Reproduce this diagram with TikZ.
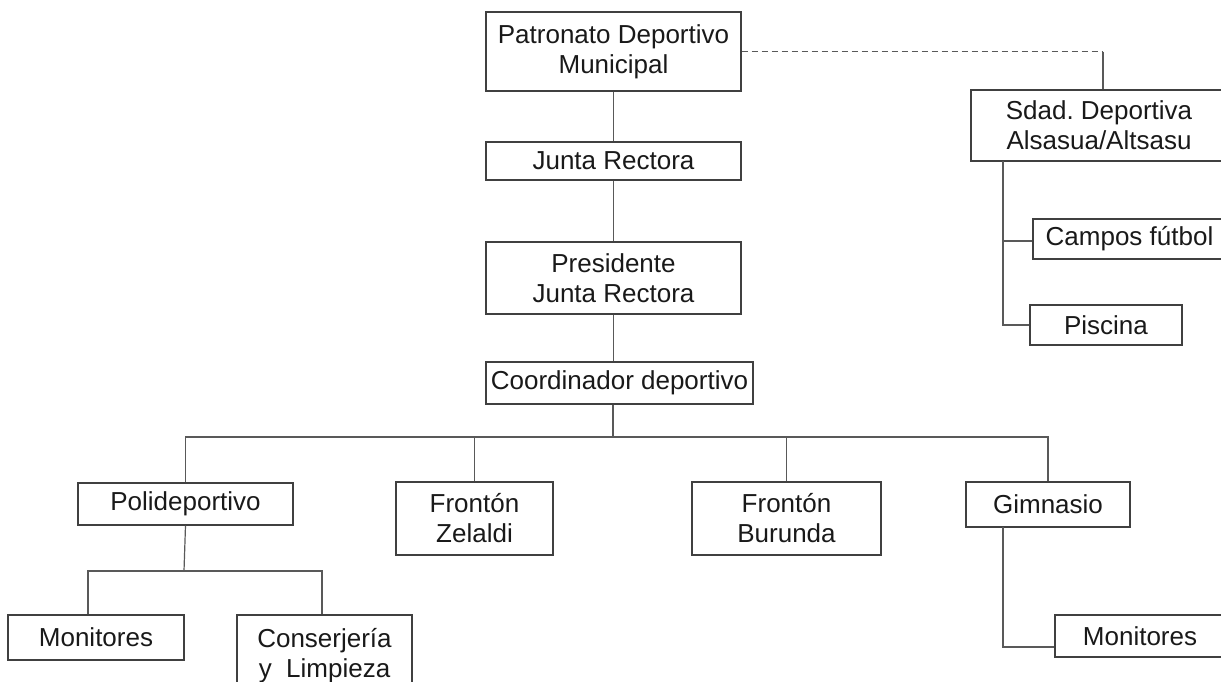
\documentclass[tikz,border=0pt]{standalone}
\usepackage{fontspec}
\setmainfont{Liberation Sans}
\usepackage{tikz}
\usepackage{xcolor}
\frenchspacing

\tikzset{
  caja/.style={draw=black!75, line width=1.2pt, inner sep=0pt, align=center,
    text=black!90, font=\fontsize{26}{30}\selectfont},
  linea/.style={draw=black!65, line width=1.2pt},
}

\begin{document}
\begin{tikzpicture}[x=1pt, y=-1pt]
\useasboundingbox (0,0) rectangle (1221,681);

% Central column
\node[caja, minimum width=255, minimum height=79] (patronato) at (613.5,51.5) {Patronato Deportivo\\Municipal};
\node[caja, minimum width=255, minimum height=38] (junta) at (613.5,161) {Junta Rectora};
\node[caja, minimum width=255, minimum height=72] (presidente) at (613.5,278) {Presidente\\Junta Rectora};
\node[caja, minimum width=267, minimum height=42] (coordinador) at (619.5,383) {Coordinador deportivo};

% Sociedad deportiva (cut at the right edge)
\node[caja, minimum width=272, minimum height=71] (sdad) at (1107,125.5) {Sdad. Deportiva\hspace*{16pt}\\Alsasua/Altsasu\hspace*{16pt}};
\node[caja, minimum width=209, minimum height=40] (campos) at (1137.5,239) {Campos f\'utbol\hspace*{16pt}};
\node[caja, minimum width=152, minimum height=40] (piscina) at (1106,325) {Piscina};

% Instalaciones
\node[caja, minimum width=215, minimum height=42] (polideportivo) at (185.5,504) {Polideportivo};
\node[caja, minimum width=157, minimum height=73] (zelaldi) at (474.5,518.5) {Frontón\\Zelaldi};
\node[caja, minimum width=189, minimum height=73] (burunda) at (786.5,518.5) {Frontón\\Burunda};
\node[caja, minimum width=164, minimum height=45] (gimnasio) at (1048,504.5) {Gimnasio};

% Personal
\node[caja, minimum width=176, minimum height=45] (monitoresA) at (96,637.5) {Monitores};
\node[caja, minimum width=175, minimum height=81] (conserjeria) at (324.5,655.5) {Conserjería\\y\ \ Limpieza};
\node[caja, minimum width=186, minimum height=42] (monitoresB) at (1148,636) {Monitores\hspace*{16pt}};

% Connectors
\coordinate (esquina) at (1103,51.5);
\coordinate (bus) at (613,437);
\coordinate (subbus) at (184,571);
\coordinate (tronco) at (1003,161);
\coordinate (tronco2) at (1003,527);

\draw[linea] (patronato) -- (junta);
\draw[linea] (junta) -- (presidente);
\draw[linea] (presidente.south) -- (presidente.south |- coordinador.north);
\draw[linea, dashed, dash pattern=on 6pt off 4pt] (patronato.east) -- (esquina);
\draw[linea] (esquina) -- (esquina |- sdad.north);

\draw[linea] (bus |- coordinador.south) -- (bus);
\draw[linea] (polideportivo.north) |- (bus) -| (gimnasio.north);
\draw[linea] (zelaldi.north) -- (zelaldi.north |- bus);
\draw[linea] (burunda.north) -- (burunda.north |- bus);

\draw[linea] (polideportivo.south) -- (subbus);
\draw[linea] ([xshift=-8]monitoresA.north) |- (subbus) -| ([xshift=-2.5]conserjeria.north);

\draw[linea] (tronco) |- (piscina.west);
\draw[linea] ([yshift=-2]campos.west) -- ([yshift=-2]campos.west -| tronco);
\draw[linea] (tronco2) |- ([yshift=-11]monitoresB.west);
\end{tikzpicture}
\end{document}
